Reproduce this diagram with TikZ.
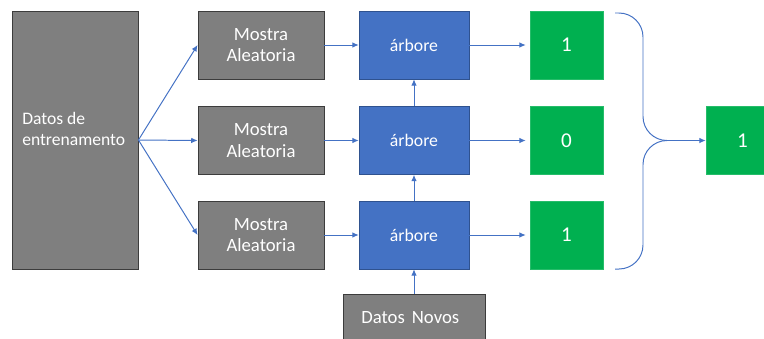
\documentclass[tikz,border=0pt]{standalone}
\usepackage{fontspec}
\setmainfont{Carlito}
\usepackage{tikz}
\usetikzlibrary{arrows.meta, positioning}
\definecolor{colGris}{RGB}{127, 127, 127}
\definecolor{colGrisBorde}{RGB}{60, 60, 60}
\definecolor{colAzul}{RGB}{68, 114, 196}
\definecolor{colAzulBorde}{RGB}{47, 82, 143}
\definecolor{colVerde}{RGB}{0, 176, 80}

\begin{document}
\begin{tikzpicture}[
  x=0.025cm, y=-0.025cm,
  >={Latex[length=4.5pt, width=4pt]},
  caixa/.style={draw=colGrisBorde, fill=colGris, line width=0.6pt,
                text=white, align=center, inner sep=0pt,
                font=\fontsize{13.3}{15.5}\selectfont},
  mostra/.style={caixa, minimum width=3.15cm, minimum height=1.7cm},
  arbore/.style={draw=colAzulBorde, fill=colAzul, line width=0.4pt,
                 text=white, minimum width=2.75cm, minimum height=1.7cm,
                 font=\fontsize{12.6}{14}\selectfont},
  voto/.style={draw=colVerde!85!white, fill=colVerde, line width=0.4pt,
               text=white, minimum width=1.825cm, minimum height=1.7cm,
               font=\fontsize{15}{17}\selectfont},
  txt/.style={text=white, anchor=west, align=left, inner sep=0pt,
              font=\fontsize{13.3}{15}\selectfont},
  fl/.style={->, colAzul, line width=0.7pt}
]
\useasboundingbox (0,0) rectangle (764,338);

% ---------- Datos de entrenamento ----------
\node[caixa, minimum width=3.15cm, minimum height=6.45cm] (adest) at (75,140) {};
\node[txt, font=\fontsize{12.5}{15}\selectfont] (adestTxt) at (22,129)
  {Datos de\\entrenamento};

% ---------- Mostras aleatorias ----------
\node[mostra] (m1) at (261,45)    {Mostra\\Aleatoria};
\node[mostra] (m2) at (261,140.5) {Mostra\\Aleatoria};
\node[mostra] (m3) at (261,235)   {Mostra\\Aleatoria};

% ---------- Árbores ----------
\node[arbore] (a1) at (414,45)    {árbore};
\node[arbore] (a2) at (414,140.5) {árbore};
\node[arbore] (a3) at (414,235)   {árbore};

% ---------- Votos ----------
\node[voto] (v1) at (566.5,45)    {1};
\node[voto] (v2) at (566.5,140.5) {0};
\node[voto] (v3) at (566.5,235)   {1};
\node[voto] (vf) at (742.5,140.5) {1};

% ---------- Datos novos ----------
\node[caixa, minimum width=3.55cm, minimum height=1.7cm] (dn) at (414,328) {};
\node[txt] (dnTxt) at (361,318) {Datos\hspace{0.38em}Novos};

% ---------- Frechas ----------
\foreach \i in {1,2,3} {
  \draw[fl] (adest.east) -- (m\i.west);
  \draw[fl] (m\i.east) -- (a\i.west);
  \draw[fl, shorten >=1mm] (a\i.east) -- (v\i.west);
}
\draw[fl] (dn.north) -- (a3.south);
\draw[fl] (a3.north) -- (a2.south);
\draw[fl] (a2.north) -- (a1.south);

% ---------- Chave e voto final ----------
\coordinate (chA) at (615,13);
\coordinate (chB) at (615,269);
\coordinate (chP) at (670,140.5);
\draw[colAzul, line width=0.7pt, rounded corners=0.6cm]
  (chA) -- (643,13) -- (643,140.5) -- (chP);
\draw[colAzul, line width=0.7pt, rounded corners=0.6cm]
  (chB) -- (643,269) -- (643,140.5) -- (chP);
\draw[fl] (chP) -- (vf.west);

\end{tikzpicture}
\end{document}
